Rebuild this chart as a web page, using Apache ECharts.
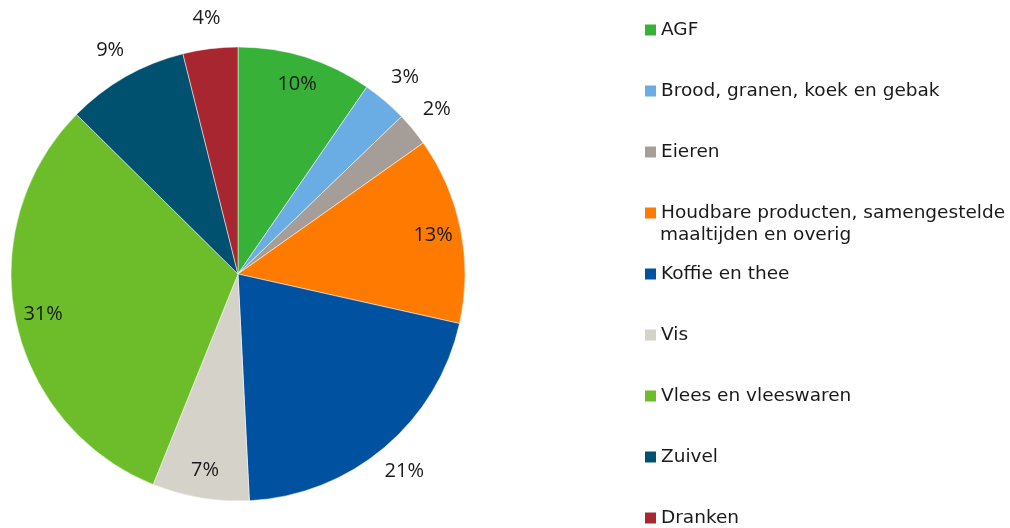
<!DOCTYPE html>
<html>
<head>
<meta charset="utf-8">
<script src="https://cdn.jsdelivr.net/npm/echarts@6/dist/echarts.min.js"></script>
<style>
  html, body { margin: 0; padding: 0; background: #fff; }
  #main { width: 1010px; height: 528px; }
</style>
</head>
<body>
<div id="main"></div>
<script>
// categorieen en aandelen (procent), met de klok mee vanaf 12 uur
const categories = ['AGF', 'Brood, granen, koek en gebak', 'Eieren', 'Houdbare producten, samengestelde', 'Koffie en thee', 'Vis', 'Vlees en vleeswaren', 'Zuivel', 'Dranken'];
const shares = [9.6, 3.2, 2.4, 13.3, 20.7, 6.9, 31.3, 8.7, 3.9];
const colors = ['#37b137', '#6aade4', '#a59e98', '#ff7a00', '#0052a0', '#d5d2ca', '#6cbd29', '#00506f', '#a8262f'];
// labels die buiten de taart staan
const outsideLabels = ['Brood, granen, koek en gebak', 'Eieren', 'Koffie en thee', 'Zuivel', 'Dranken'];

const center = [238, 274];
const R = 227;

let myChart = echarts.init(document.getElementById('main'));

const pieData = categories.map((c, i) => ({ name: c, value: shares[i], itemStyle: { color: colors[i] } }));

/* labelring: transparante taart, alleen om labels op de goede straal te zetten */
function labelSeries(radius, outside) {
    return {
        type: 'pie',
        center: center,
        radius: radius,
        startAngle: 90,
        clockwise: true,
        silent: true,
        legendHoverLink: false,
        itemStyle: { color: 'transparent' },
        emphasis: { disabled: true },
        label: {
            show: true,
            position: 'inside',
            fontFamily: 'Open Sans',
            fontSize: 20,
            color: '#1a1a1a',
            formatter: p => Math.round(p.percent) + '%'
        },
        labelLine: { show: false },
        data: categories.map((c, i) => ({
            name: c,
            value: shares[i],
            label: { show: outsideLabels.includes(c) === outside }
        }))
    };
}

// een legenda per item, zodat de regels gelijk verdeeld zijn
const legends = categories.map((c, i) => ({
    data: [c],
    orient: 'vertical',
    left: 645,
    top: 19 + i * 61,
    padding: 0,
    icon: 'rect',
    itemWidth: 11,
    itemHeight: 11,
    itemGap: 0,
    itemStyle: { borderWidth: 0 },
    selectedMode: false,
    textStyle: { fontFamily: 'DejaVu Sans', fontSize: 18.5, color: '#1a1a1a', lineHeight: 22 }
}));

myChart.setOption({
    animation: false,
    legend: legends,
    graphic: [{
        type: 'text',
        left: 660,
        top: 226,
        style: { text: 'maaltijden en overig', font: '18.5px "DejaVu Sans"', fill: '#1a1a1a' }
    }],
    series: [
        {
            type: 'pie',
            center: center,
            radius: R,
            startAngle: 90,
            clockwise: true,
            label: { show: false },
            labelLine: { show: false },
            itemStyle: { borderColor: '#ffffff', borderWidth: 0.5 },
            data: pieData
        },
        labelSeries([165, R], false),
        labelSeries([R, 283], true)
    ]
});
</script>
</body>
</html>
